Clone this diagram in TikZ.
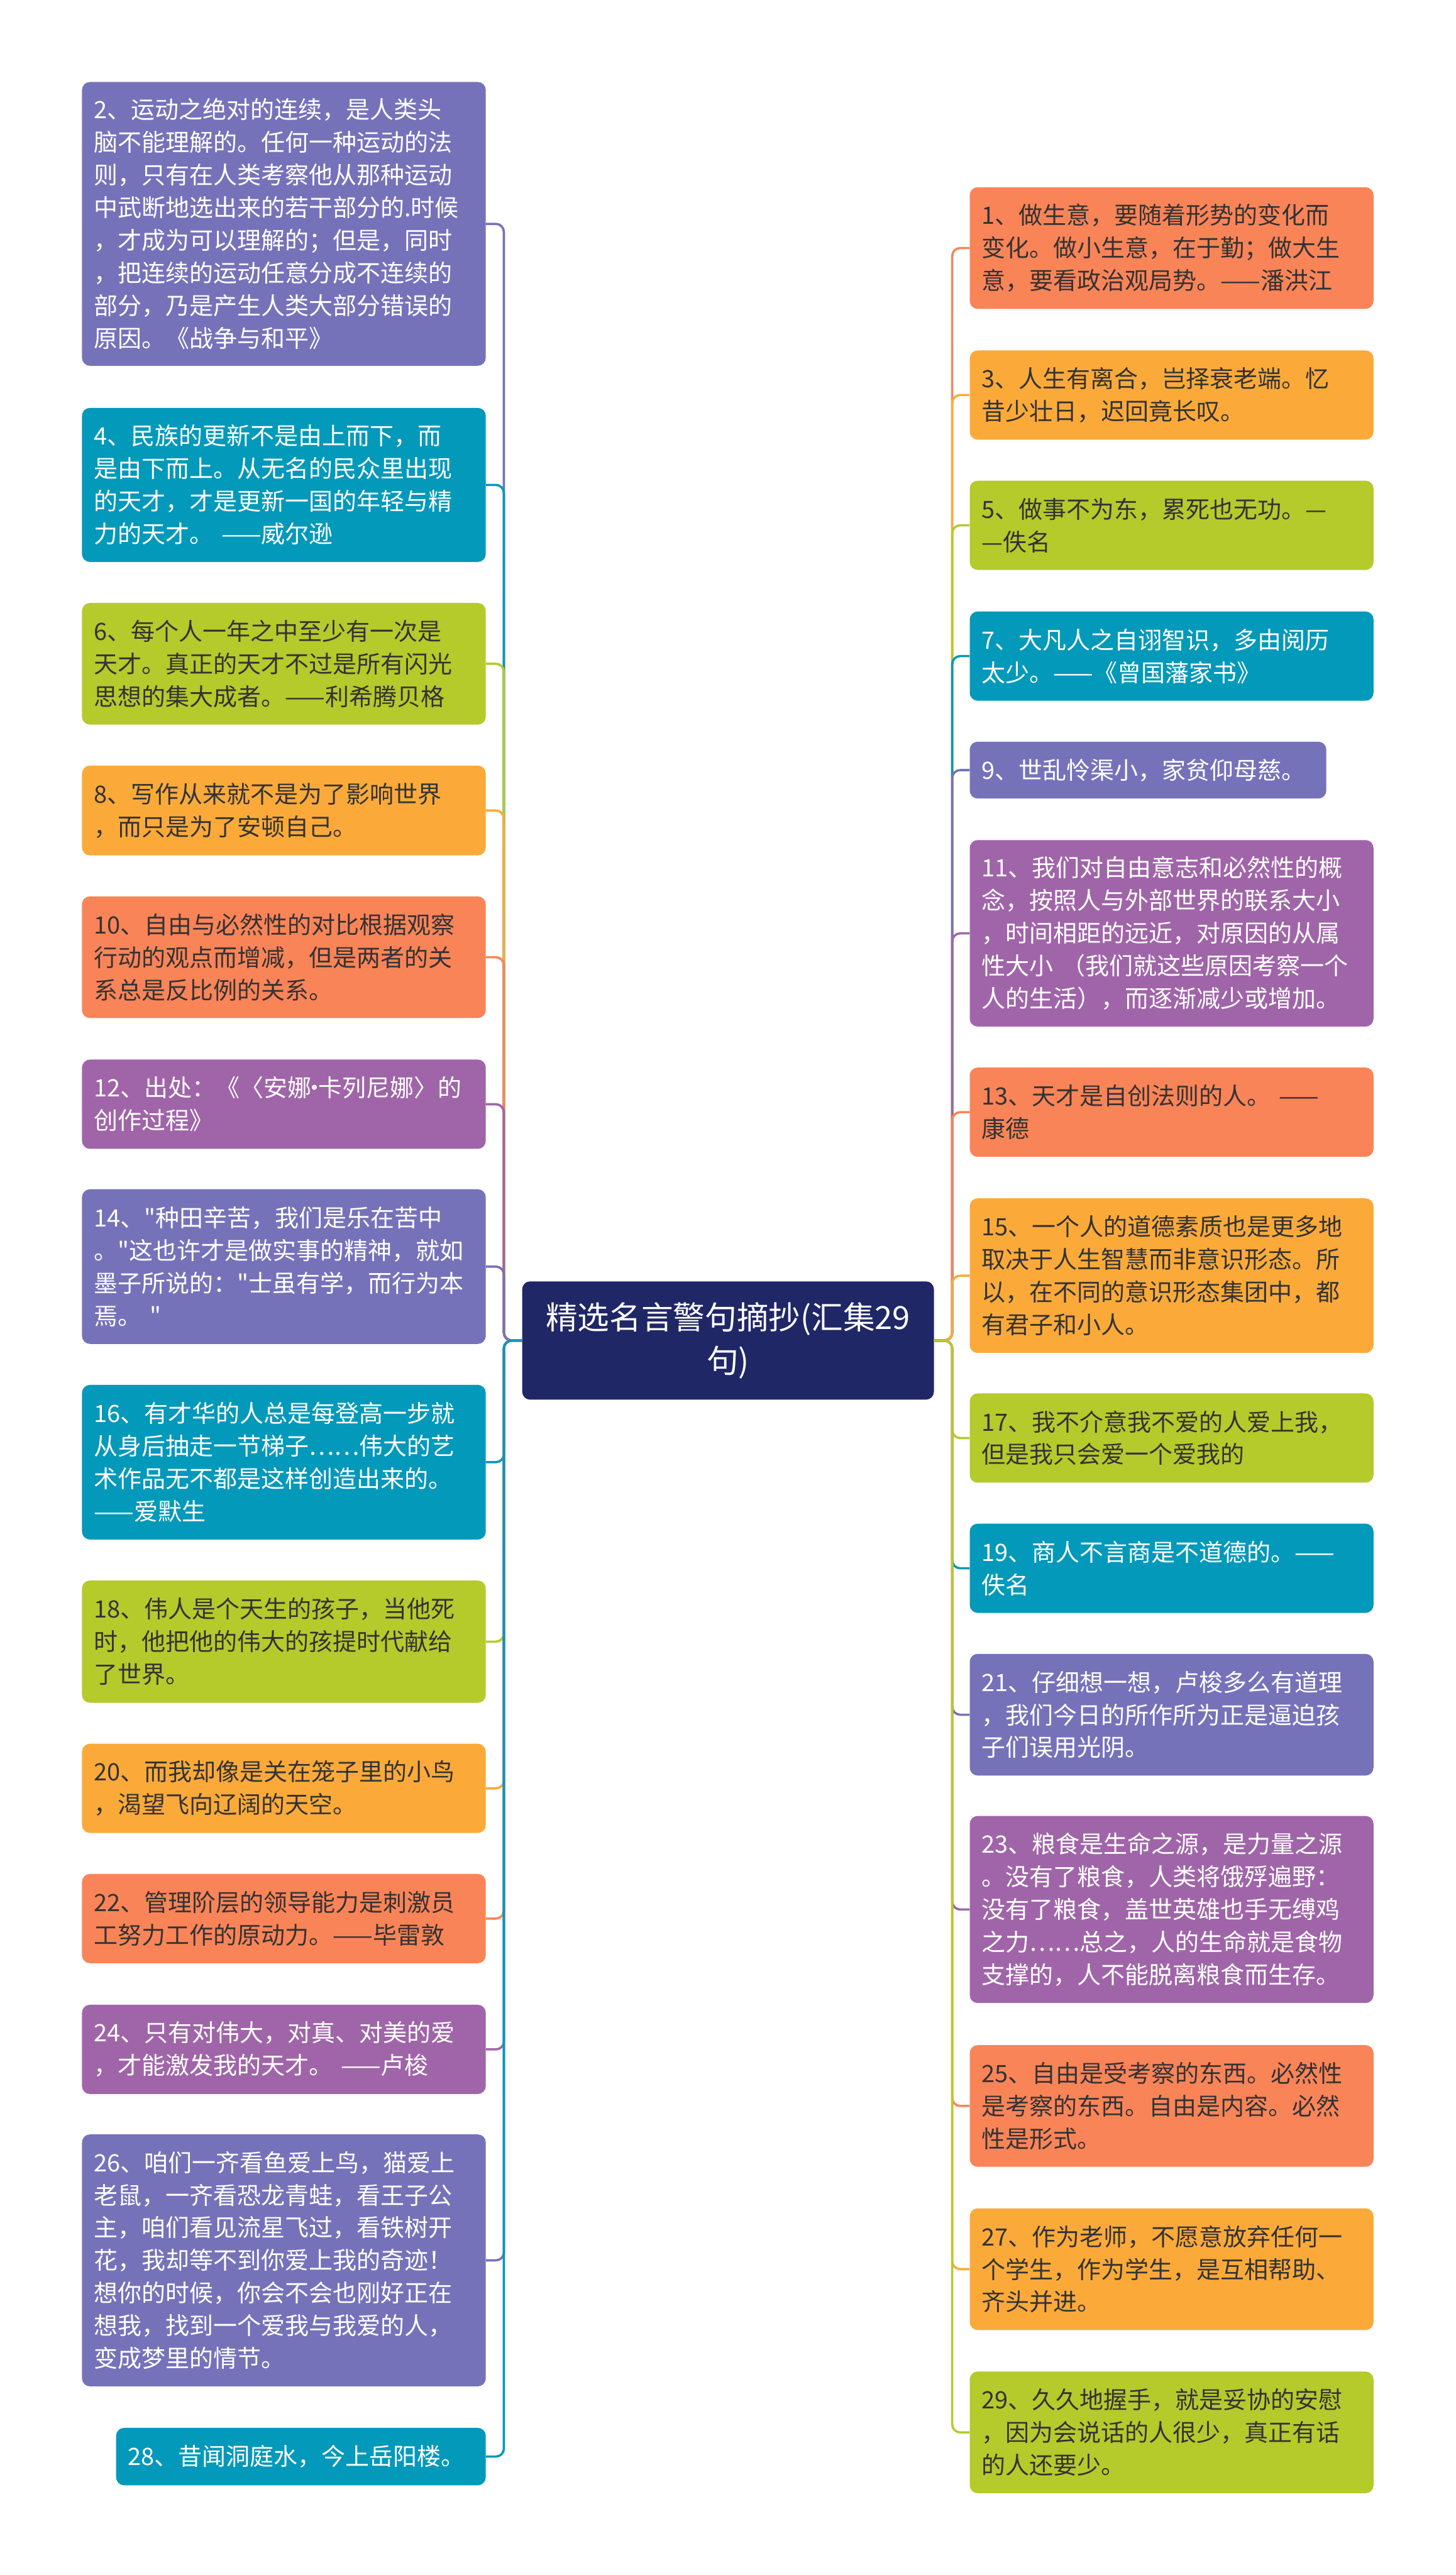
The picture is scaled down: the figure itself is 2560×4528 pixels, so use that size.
\documentclass[tikz,border=0pt]{standalone}
\usepackage{fontspec}
\newfontfamily\cjk{Noto Sans CJK SC}
\definecolor{cpur}{HTML}{7672BA}
\definecolor{ctea}{HTML}{0399BA}
\definecolor{cgrn}{HTML}{B5CA2B}
\definecolor{corg}{HTML}{FBAA3A}
\definecolor{ccor}{HTML}{F98458}
\definecolor{cmag}{HTML}{A065A9}
\definecolor{cnav}{HTML}{1F2766}
\definecolor{cdark}{HTML}{333333}
\tikzset{
  box/.style={rounded corners=14pt, inner xsep=21pt, inner ysep=0pt, anchor=north west,
    align=left, text width=668pt, font=\cjk\fontsize{42}{57.4}\selectfont},
  bpur/.style={box, fill=cpur, text=white},
  btea/.style={box, fill=ctea, text=white},
  bgrn/.style={box, fill=cgrn, text=cdark},
  borg/.style={box, fill=corg, text=cdark},
  bcor/.style={box, fill=ccor, text=cdark},
  bmag/.style={box, fill=cmag, text=white},
  conn/.style={line width=4pt, rounded corners=14pt},
}
\begin{document}
\begin{tikzpicture}[x=1pt,y=-1pt]
\useasboundingbox[fill=white] (0,0) rectangle (2560,4528);

% root
\node[rounded corners=14pt, fill=cnav, text=white, anchor=north west, inner xsep=0pt, inner ysep=0pt,
  text width=724pt, minimum height=208pt, align=center, font=\cjk\fontsize{56}{77}\selectfont]
  (root) at (918,2253) {精选名言警句摘抄(汇集29\\句)};

% left column
\node[bpur, minimum height=499pt] (c2) at (144,144) {2、运动之绝对的连续，是人类头\\脑不能理解的。任何一种运动的法\\则，只有在人类考察他从那种运动\\中武断地选出来的若干部分的.时候\\，才成为可以理解的；但是，同时\\，把连续的运动任意分成不连续的\\部分，乃是产生人类大部分错误的\\原因。《战争与和平》};
\node[btea, minimum height=271pt] (c4) at (144,717) {4、民族的更新不是由上而下，而\\是由下而上。从无名的民众里出现\\的天才，才是更新一国的年轻与精\\力的天才。 ——威尔逊};
\node[bgrn, minimum height=214pt] (c6) at (144,1060) {6、每个人一年之中至少有一次是\\天才。真正的天才不过是所有闪光\\思想的集大成者。——利希腾贝格};
\node[borg, minimum height=158pt] (c8) at (144,1346) {8、写作从来就不是为了影响世界\\，而只是为了安顿自己。};
\node[bcor, minimum height=214pt] (c10) at (144,1576) {10、自由与必然性的对比根据观察\\行动的观点而增减，但是两者的关\\系总是反比例的关系。};
\node[bmag, minimum height=157pt] (c12) at (144,1863) {12、出处：《〈安娜\makebox[12pt]{·}卡列尼娜〉的\\创作过程》};
\node[bpur, minimum height=272pt] (c14) at (144,2091) {14、"种田辛苦，我们是乐在苦中\\。"这也许才是做实事的精神，就如\\墨子所说的："士虽有学，而行为本\\焉。 "};
\node[btea, minimum height=272pt] (c16) at (144,2435) {16、有才华的人总是每登高一步就\\从身后抽走一节梯子……伟大的艺\\术作品无不都是这样创造出来的。\\——爱默生};
\node[bgrn, minimum height=215pt] (c18) at (144,2779) {18、伟人是个天生的孩子，当他死\\时，他把他的伟大的孩提时代献给\\了世界。};
\node[borg, minimum height=157pt] (c20) at (144,3066) {20、而我却像是关在笼子里的小鸟\\，渴望飞向辽阔的天空。};
\node[bcor, minimum height=157pt] (c22) at (144,3295) {22、管理阶层的领导能力是刺激员\\工努力工作的原动力。——毕雷敦};
\node[bmag, minimum height=157pt] (c24) at (144,3525) {24、只有对伟大，对真、对美的爱\\，才能激发我的天才。 ——卢梭};
\node[bpur, minimum height=443pt] (c26) at (144,3753) {26、咱们一齐看鱼爱上鸟，猫爱上\\老鼠，一齐看恐龙青蛙，看王子公\\主，咱们看见流星飞过，看铁树开\\花，我却等不到你爱上我的奇迹！\\想你的时候，你会不会也刚好正在\\想我，找到一个爱我与我爱的人，\\变成梦里的情节。};
\node[btea, minimum height=101pt, text width=608pt] (c28) at (204,4269) {28、昔闻洞庭水，今上岳阳楼。};

% right column
\node[bcor, minimum height=214pt] (c1) at (1705,329) {1、做生意，要随着形势的变化而\\变化。做小生意，在于勤；做大生\\意，要看政治观局势。——潘洪江};
\node[borg, minimum height=157pt] (c3) at (1705,616) {3、人生有离合，岂择衰老端。忆\\昔少壮日，迟回竟长叹。};
\node[bgrn, minimum height=157pt] (c5) at (1705,845) {5、做事不为东，累死也无功。—\\—佚名};
\node[btea, minimum height=157pt] (c7) at (1705,1075) {7、大凡人之自诩智识，多由阅历\\太少。——《曾国藩家书》};
\node[bpur, minimum height=100pt, text width=585pt] (c9) at (1705,1304) {9、世乱怜渠小，家贫仰母慈。};
\node[bmag, minimum height=328pt] (c11) at (1705,1477) {11、我们对自由意志和必然性的概\\念，按照人与外部世界的联系大小\\，时间相距的远近，对原因的从属\\性大小 （我们就这些原因考察一个\\人的生活），而逐渐减少或增加。};
\node[bcor, minimum height=157pt] (c13) at (1705,1877) {13、天才是自创法则的人。 ——\\康德};
\node[borg, minimum height=272pt] (c15) at (1705,2107) {15、一个人的道德素质也是更多地\\取决于人生智慧而非意识形态。所\\以，在不同的意识形态集团中，都\\有君子和小人。};
\node[bgrn, minimum height=157pt] (c17) at (1705,2450) {17、我不介意我不爱的人爱上我，\\但是我只会爱一个爱我的};
\node[btea, minimum height=157pt] (c19) at (1705,2679) {19、商人不言商是不道德的。——\\佚名};
\node[bpur, minimum height=214pt] (c21) at (1705,2908) {21、仔细想一想，卢梭多么有道理\\，我们今日的所作所为正是逼迫孩\\子们误用光阴。};
\node[bmag, minimum height=329pt] (c23) at (1705,3193) {23、粮食是生命之源，是力量之源\\。没有了粮食，人类将饿殍遍野：\\没有了粮食，盖世英雄也手无缚鸡\\之力……总之，人的生命就是食物\\支撑的，人不能脱离粮食而生存。};
\node[bcor, minimum height=214pt] (c25) at (1705,3596) {25、自由是受考察的东西。必然性\\是考察的东西。自由是内容。必然\\性是形式。};
\node[borg, minimum height=214pt] (c27) at (1705,3883) {27、作为老师，不愿意放弃任何一\\个学生，作为学生，是互相帮助、\\齐头并进。};
\node[bgrn, minimum height=214pt] (c29) at (1705,4170) {29、久久地握手，就是妥协的安慰\\，因为会说话的人很少，真正有话\\的人还要少。};

% connectors left
\foreach \n/\c in {2/cpur,4/ctea,6/cgrn,8/corg,10/ccor,12/cmag,14/cpur,16/ctea,18/cgrn,20/corg,22/ccor,24/cmag,26/cpur,28/ctea}{
  \draw[conn, draw=\c] (root.west) -- ++(-32,0) |- (c\n.east);
}
% connectors right
\foreach \n/\c in {1/ccor,3/corg,5/cgrn,7/ctea,9/cpur,11/cmag,13/ccor,15/corg,17/cgrn,19/ctea,21/cpur,23/cmag,25/ccor,27/corg,29/cgrn}{
  \draw[conn, draw=\c] (root.east) -- ++(32,0) |- (c\n.west);
}
\end{tikzpicture}
\end{document}
